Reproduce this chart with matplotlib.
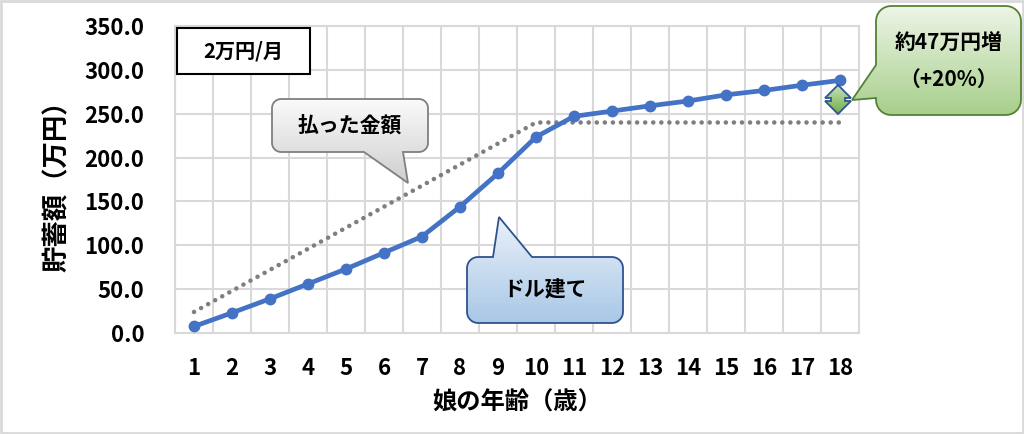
import numpy as np
import matplotlib.pyplot as plt
from matplotlib.patches import PathPatch, Rectangle
from matplotlib.path import Path
from matplotlib.colors import to_rgb

plt.rcParams['font.family'] = ['Noto Sans CJK JP', 'DejaVu Sans']

# data
ages = [1, 2, 3, 4, 5, 6, 7, 8, 9, 10, 11, 12, 13, 14, 15, 16, 17, 18]
paid = [24, 48, 72, 96, 120, 144, 168, 192, 216, 240,
        240, 240, 240, 240, 240, 240, 240, 240]
dollar = [7.5, 23, 39, 56, 73, 91.5, 110, 144, 182, 223.5,
          247, 253, 259, 264.5, 271.5, 276.5, 282.5, 288]
yticks = [0, 50, 100, 150, 200, 250, 300, 350]

GRID = '#d9d9d9'


def gradient_fill(ov, patch, xs, ys, top, bottom):
    # vertical gradient clipped to a patch
    c0, c1 = np.array(to_rgb(top)), np.array(to_rgb(bottom))
    t = np.linspace(0, 1, 128)[:, None, None]
    img = c0 * (1 - t) + c1 * t
    im = ov.imshow(img, extent=(min(xs), max(xs), max(ys), min(ys)),
                   origin='upper', aspect='auto', zorder=patch.get_zorder() - 0.1,
                   interpolation='bilinear')
    im.set_clip_path(patch)


def arc(cx, cy, r, a0, a1):
    t = np.radians(np.linspace(a0, a1, 8))
    return list(zip(cx + r * np.cos(t), cy + r * np.sin(t)))


def callout(ov, x0, y0, x1, y1, r, tail, ec, top, bottom, lw=1.3):
    side, a, b, tip = tail
    v = [(x0 + r, y0)]
    if side == 'top':
        v += [(a, y0), tip, (b, y0)]
    v += arc(x1 - r, y0 + r, r, -90, 0)
    v += arc(x1 - r, y1 - r, r, 0, 90)
    if side == 'bottom':
        v += [(b, y1), tip, (a, y1)]
    v += arc(x0 + r, y1 - r, r, 90, 180)
    if side == 'left':
        v += [(x0, b), tip, (x0, a)]
    v += arc(x0 + r, y0 + r, r, 180, 270)
    v.append(v[0])
    patch = PathPatch(Path(v, closed=True), fc='none', ec=ec, lw=lw, zorder=6)
    ov.add_patch(patch)
    xs, ys = zip(*v)
    gradient_fill(ov, patch, xs, ys, top, bottom)


fig = plt.figure(figsize=(10.24, 4.34), dpi=100)
ax = fig.add_axes([175 / 1024, (434 - 333) / 434, (859 - 175) / 1024, (333 - 26) / 434])

ax.plot(ages, paid, color='#7f7f7f', lw=3.3, linestyle=(0, (0.01, 1.75)),
        dash_capstyle='round', zorder=3)
ax.plot(ages, dollar, color='#4472C4', lw=3.4, marker='o', ms=7.5, zorder=4)

ax.set_xlim(0.5, 18.5)
ax.set_ylim(0, 350)
ax.set_xticks(ages)
ax.set_xticks(np.arange(0.5, 19, 1), minor=True)
ax.set_yticks(yticks)
ax.set_yticklabels([f'{v:.1f}' for v in yticks])
ax.grid(which='minor', axis='x', color=GRID, lw=1.5)
ax.grid(which='major', axis='y', color=GRID, lw=1.5)
ax.set_axisbelow(True)
for s in ax.spines.values():
    s.set_color(GRID)
    s.set_linewidth(1.5)
ax.tick_params(which='both', length=0)
ax.tick_params(axis='y', pad=22, labelsize=16)
ax.tick_params(axis='x', pad=17, labelsize=16)
for lab in ax.get_xticklabels() + ax.get_yticklabels():
    lab.set_fontweight('bold')

ax.set_ylabel('貯蓄額（万円）', fontsize=19, fontweight='bold', labelpad=10)
ax.set_xlabel('娘の年齢（歳）', fontsize=17.5, fontweight='bold', labelpad=8)

# overlay in pixel coords for the shapes
ov = fig.add_axes([0, 0, 1, 1], zorder=5)
ov.set_xlim(0, 1024)
ov.set_ylim(434, 0)
ov.axis('off')

ov.add_patch(Rectangle((1, 1), 1022, 432, fill=False, ec=GRID, lw=2))

ov.add_patch(Rectangle((177, 28), 133, 46, fc='white', ec='black', lw=1.5, zorder=6))
ov.text(243.5, 51, '2万円/月', ha='center', va='center', fontsize=14.5,
        fontweight='bold', zorder=7)

callout(ov, 272, 99, 428, 152, 9, ('bottom', 364, 403, (408, 183)),
        '#7f7f7f', '#fafafa', '#cfcfcf')
ov.text(350, 126, '払った金額', ha='center', va='center', fontsize=15,
        fontweight='bold', zorder=7)

callout(ov, 467, 257, 623, 323, 11, ('top', 493, 532, (499, 217)),
        '#2f528f', '#eaf1fa', '#a9c7e6')
ov.text(545, 290, 'ドル建て', ha='center', va='center', fontsize=15,
        fontweight='bold', zorder=7)

callout(ov, 876, 6, 1021, 115, 15, ('left', 65, 98, (852, 100)),
        '#548235', '#edf5e7', '#a7cf8b')
ov.text(948.5, 43, '約47万円増', ha='center', va='center', fontsize=15,
        fontweight='bold', zorder=7)
ov.text(948.5, 79, '（+20%）', ha='center', va='center', fontsize=15,
        fontweight='bold', zorder=7)

# up-down block arrow next to the last point
arrow = [(838, 85), (851, 98), (845, 98), (845, 101), (851, 101), (838, 114),
         (825, 101), (831, 101), (831, 98), (825, 98), (838, 85)]
ap = PathPatch(Path(arrow, closed=True), fc='none', ec='#2f5597', lw=1.3, zorder=6)
ov.add_patch(ap)
axs, ays = zip(*arrow)
gradient_fill(ov, ap, axs, ays, '#c9e2b8', '#70ad47')

fig.savefig('out.png', dpi=100)
